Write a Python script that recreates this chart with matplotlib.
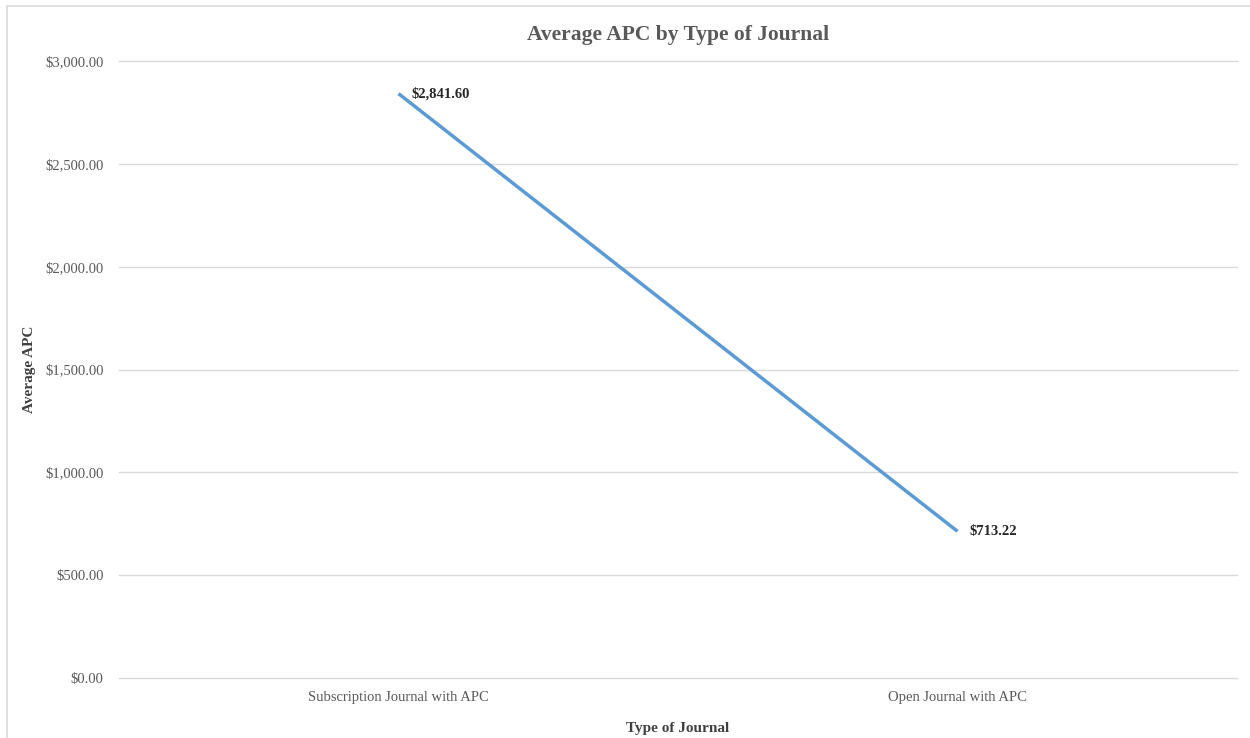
import matplotlib
matplotlib.use("Agg")
import matplotlib.pyplot as plt
from matplotlib.patches import Rectangle
from matplotlib.ticker import FuncFormatter

# data
categories = ["Subscription Journal with APC", "Open Journal with APC"]
avg_apc = [2841.60, 713.22]

plt.rcParams['font.family'] = ['Liberation Serif', 'DejaVu Serif']

fig = plt.figure(figsize=(12.5, 7.38), dpi=100)
ax = fig.add_axes([0.0952, 0.0813, 0.8944, 0.836])

# light frame around the chart area like the spreadsheet export
fig.patches.append(Rectangle((0.0056, -0.05), 1.2, 1.042, transform=fig.transFigure,
                             fill=False, edgecolor='#d9d9d9', linewidth=1.2))

x = list(range(len(categories)))
ax.plot(x, avg_apc, color='#5b9bd5', linewidth=2.5, solid_capstyle='butt')

for xi, v in zip(x, avg_apc):
    ax.annotate(f"${v:,.2f}", (xi, v), xytext=(9, 0), textcoords='offset points',
                ha='left', va='center',
                fontsize=10.5, fontweight='bold', color='#262626')

ax.set_xlim(-0.5, 1.5)
ax.set_ylim(0, 3000)
ax.set_yticks(range(0, 3001, 500))
ax.yaxis.set_major_formatter(FuncFormatter(lambda v, p: f"${v:,.2f}"))
ax.set_xticks(x)
ax.set_xticklabels(categories)

ax.grid(axis='y', color='#d9d9d9', linewidth=1)
for gl in ax.get_ygridlines():
    gl.set_clip_on(False)
ax.set_axisbelow(True)
for s in ax.spines.values():
    s.set_visible(False)
ax.tick_params(axis='both', length=0, labelsize=10.5, labelcolor='#595959')
ax.tick_params(axis='y', pad=11)
ax.tick_params(axis='x', pad=9)

ax.set_title("Average APC by Type of Journal", fontsize=15.5, fontweight='bold',
             color='#595959', pad=15)
ax.set_xlabel("Type of Journal", fontsize=11, fontweight='bold', color='#404040', labelpad=13)
ax.set_ylabel("Average APC", fontsize=11, fontweight='bold', color='#404040', labelpad=7)

fig.savefig("out.png", dpi=100)
